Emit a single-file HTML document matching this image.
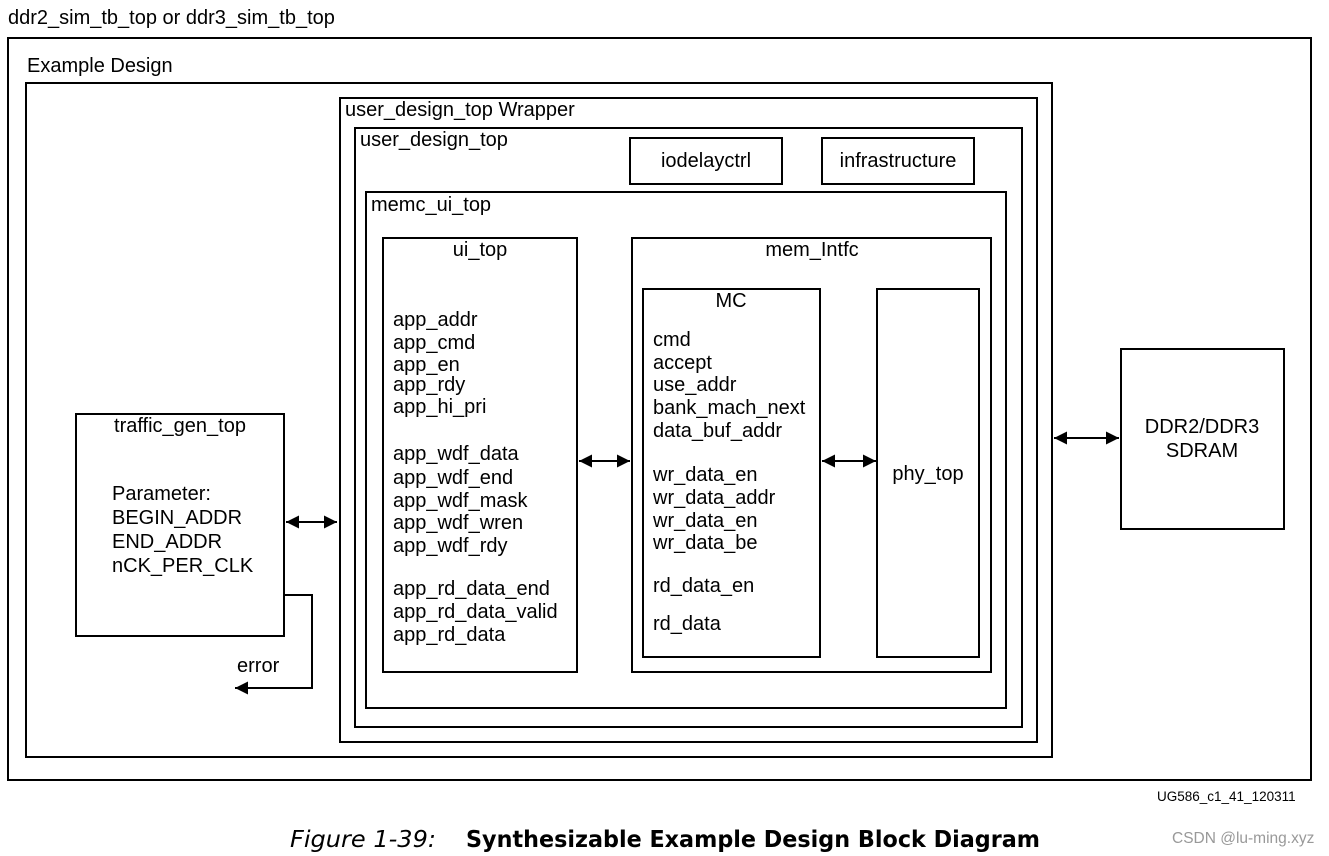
<!DOCTYPE html>
<html><head><meta charset="utf-8"><style>
html,body{margin:0;padding:0;background:#fff;}
svg{display:block;}
text{font-family:"Liberation Sans",Arial,sans-serif;font-size:20px;fill:#000;}
</style></head><body>
<svg width="1329" height="856" viewBox="0 0 1329 856" xmlns="http://www.w3.org/2000/svg">
<defs>
<marker id="ah" viewBox="0 0 10 10" refX="10" refY="5" markerWidth="18" markerHeight="13" markerUnits="userSpaceOnUse" orient="auto-start-reverse"><path d="M0,0 L10,5 L0,10 z" fill="#000"/></marker>
</defs>
<g fill="none" stroke="#000" stroke-width="2">
<rect x="8" y="38" width="1303" height="742"/>
<rect x="26" y="83" width="1026" height="674"/>
<rect x="340" y="98" width="697" height="644"/>
<rect x="355" y="128" width="667" height="599"/>
<rect x="630" y="138" width="152" height="46"/>
<rect x="822" y="138" width="152" height="46"/>
<rect x="366" y="192" width="640" height="516"/>
<rect x="383" y="238" width="194" height="434"/>
<rect x="632" y="238" width="359" height="434"/>
<rect x="643" y="289" width="177" height="368"/>
<rect x="877" y="289" width="102" height="368"/>
<rect x="76" y="414" width="208" height="222"/>
<rect x="1121" y="349" width="163" height="180"/>
<line x1="286" y1="522" x2="337" y2="522" marker-start="url(#ah)" marker-end="url(#ah)"/>
<line x1="579" y1="461" x2="630" y2="461" marker-start="url(#ah)" marker-end="url(#ah)"/>
<line x1="822" y1="461" x2="876" y2="461" marker-start="url(#ah)" marker-end="url(#ah)"/>
<line x1="1054" y1="438" x2="1119" y2="438" marker-start="url(#ah)" marker-end="url(#ah)"/>
<polyline points="284,595 312,595 312,688 235,688" marker-end="url(#ah)"/>
</g>
<text x="8" y="24">ddr2_sim_tb_top or ddr3_sim_tb_top</text>
<text x="27" y="72">Example Design</text>
<text x="345" y="116">user_design_top Wrapper</text>
<text x="360" y="146">user_design_top</text>
<text x="706" y="167" text-anchor="middle">iodelayctrl</text>
<text x="898" y="167" text-anchor="middle">infrastructure</text>
<text x="371" y="211">memc_ui_top</text>
<text x="480" y="256" text-anchor="middle">ui_top</text>
<text x="812" y="256" text-anchor="middle">mem_Intfc</text>
<text x="731" y="307" text-anchor="middle">MC</text>
<text x="928" y="480" text-anchor="middle">phy_top</text>
<text x="1202" y="433" text-anchor="middle">DDR2/DDR3</text>
<text x="1202" y="457" text-anchor="middle">SDRAM</text>
<text x="180" y="432" text-anchor="middle">traffic_gen_top</text>
<text x="112" y="500">Parameter:</text>
<text x="112" y="524">BEGIN_ADDR</text>
<text x="112" y="548">END_ADDR</text>
<text x="112" y="572">nCK_PER_CLK</text>
<text x="237" y="672">error</text>
<g>
<text x="393" y="326">app_addr</text>
<text x="393" y="349">app_cmd</text>
<text x="393" y="371">app_en</text>
<text x="393" y="391">app_rdy</text>
<text x="393" y="413">app_hi_pri</text>
<text x="393" y="460">app_wdf_data</text>
<text x="393" y="484">app_wdf_end</text>
<text x="393" y="507">app_wdf_mask</text>
<text x="393" y="529">app_wdf_wren</text>
<text x="393" y="552">app_wdf_rdy</text>
<text x="393" y="595">app_rd_data_end</text>
<text x="393" y="618">app_rd_data_valid</text>
<text x="393" y="641">app_rd_data</text>
</g>
<g>
<text x="653" y="346">cmd</text>
<text x="653" y="369">accept</text>
<text x="653" y="391">use_addr</text>
<text x="653" y="414">bank_mach_next</text>
<text x="653" y="437">data_buf_addr</text>
<text x="653" y="481">wr_data_en</text>
<text x="653" y="504">wr_data_addr</text>
<text x="653" y="527">wr_data_en</text>
<text x="653" y="549">wr_data_be</text>
<text x="653" y="592">rd_data_en</text>
<text x="653" y="630">rd_data</text>
</g>
<text x="1157" y="801" style="font-size:13.5px">UG586_c1_41_120311</text>
<text x="290" y="847" style="font-family:'DejaVu Sans',sans-serif;font-size:23px;font-style:italic" textLength="146" lengthAdjust="spacingAndGlyphs">Figure 1-39:</text>
<text x="466" y="847" style="font-family:'DejaVu Sans',sans-serif;font-size:23px;font-weight:bold" textLength="574" lengthAdjust="spacingAndGlyphs">Synthesizable Example Design Block Diagram</text>
<text x="1172" y="843" style="font-size:15.5px;fill:#999">CSDN @lu-ming.xyz</text>
</svg>
</body></html>
